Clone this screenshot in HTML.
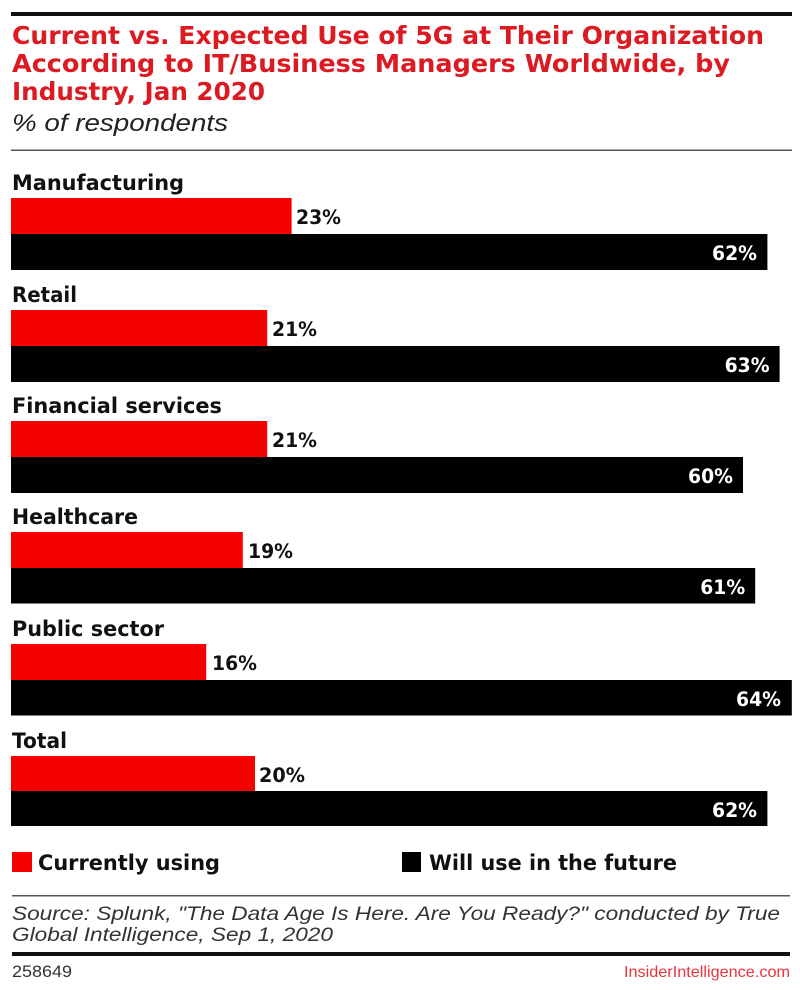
<!DOCTYPE html>
<html>
<head>
<meta charset="utf-8">
<style>
  html, body { margin: 0; padding: 0; background: #ffffff; }
  body { width: 800px; height: 990px; overflow: hidden; }
  svg { display: block; }
  .title { font-family: "DejaVu Sans", "Liberation Sans", sans-serif; font-weight: bold; font-size: 24.5px; fill: #dc1a22; }
  .sub { font-family: "Liberation Sans", "DejaVu Sans", sans-serif; font-style: italic; font-size: 24px; fill: #222; }
  .grp { font-family: "DejaVu Sans", "Liberation Sans", sans-serif; font-weight: bold; font-size: 21px; fill: #111; }
  .val { font-family: "DejaVu Sans", "Liberation Sans", sans-serif; font-weight: bold; font-size: 19.5px; fill: #111; }
  .valw { font-family: "DejaVu Sans", "Liberation Sans", sans-serif; font-weight: bold; font-size: 19.5px; fill: #fff; }
  .leg { font-family: "DejaVu Sans", "Liberation Sans", sans-serif; font-weight: bold; font-size: 21px; fill: #111; }
  .src { font-family: "Liberation Sans", "DejaVu Sans", sans-serif; font-style: italic; font-size: 19.5px; fill: #333; }
  .id { font-family: "Liberation Sans", "DejaVu Sans", sans-serif; font-size: 16.5px; fill: #333; }
  .brand { font-family: "Liberation Sans", "DejaVu Sans", sans-serif; font-size: 16px; fill: #e8333c; }
</style>
</head>
<body>
<svg width="800" height="990" viewBox="0 0 800 990" xmlns="http://www.w3.org/2000/svg">
  <rect x="0" y="0" width="800" height="990" fill="#ffffff"/>
  <!-- top rule -->
  <rect x="11" y="12" width="781" height="4" fill="#111"/>

  <!-- title -->
  <text class="title" x="12" y="44" textLength="752" lengthAdjust="spacingAndGlyphs">Current vs. Expected Use of 5G at Their Organization</text>
  <text class="title" x="12" y="72" textLength="718" lengthAdjust="spacingAndGlyphs">According to IT/Business Managers Worldwide, by</text>
  <text class="title" x="12" y="100" textLength="253" lengthAdjust="spacingAndGlyphs">Industry, Jan 2020</text>
  <text class="sub" x="12" y="131" textLength="216" lengthAdjust="spacingAndGlyphs">% of respondents</text>

  <rect x="11" y="149.5" width="781" height="1.5" fill="#555"/>

  <!-- Manufacturing -->
  <text class="grp" x="12" y="190" textLength="172" lengthAdjust="spacingAndGlyphs">Manufacturing</text>
  <rect x="11" y="198" width="280.6" height="36" fill="#f70000"/>
  <text class="val" x="296" y="224" textLength="45" lengthAdjust="spacingAndGlyphs">23%</text>
  <rect x="11" y="234" width="756.4" height="36" fill="#000"/>
  <text class="valw" x="757" y="260" text-anchor="end" textLength="45" lengthAdjust="spacingAndGlyphs">62%</text>

  <!-- Retail -->
  <text class="grp" x="12" y="302" textLength="65" lengthAdjust="spacingAndGlyphs">Retail</text>
  <rect x="11" y="310" width="256.2" height="36" fill="#f70000"/>
  <text class="val" x="272" y="336" textLength="45" lengthAdjust="spacingAndGlyphs">21%</text>
  <rect x="11" y="346" width="768.6" height="36" fill="#000"/>
  <text class="valw" x="769.6" y="372" text-anchor="end" textLength="45" lengthAdjust="spacingAndGlyphs">63%</text>

  <!-- Financial services -->
  <text class="grp" x="12" y="413" textLength="210" lengthAdjust="spacingAndGlyphs">Financial services</text>
  <rect x="11" y="421" width="256.2" height="36" fill="#f70000"/>
  <text class="val" x="272" y="447" textLength="45" lengthAdjust="spacingAndGlyphs">21%</text>
  <rect x="11" y="457" width="732" height="36" fill="#000"/>
  <text class="valw" x="733" y="483" text-anchor="end" textLength="45" lengthAdjust="spacingAndGlyphs">60%</text>

  <!-- Healthcare -->
  <text class="grp" x="12" y="524" textLength="126" lengthAdjust="spacingAndGlyphs">Healthcare</text>
  <rect x="11" y="532" width="231.8" height="36" fill="#f70000"/>
  <text class="val" x="248" y="558" textLength="45" lengthAdjust="spacingAndGlyphs">19%</text>
  <rect x="11" y="568" width="744.2" height="35.5" fill="#000"/>
  <text class="valw" x="745.2" y="594" text-anchor="end" textLength="45" lengthAdjust="spacingAndGlyphs">61%</text>

  <!-- Public sector -->
  <text class="grp" x="12" y="636" textLength="152" lengthAdjust="spacingAndGlyphs">Public sector</text>
  <rect x="11" y="644" width="195.2" height="36" fill="#f70000"/>
  <text class="val" x="212" y="670" textLength="45" lengthAdjust="spacingAndGlyphs">16%</text>
  <rect x="11" y="680" width="780.8" height="35.5" fill="#000"/>
  <text class="valw" x="781" y="706" text-anchor="end" textLength="45" lengthAdjust="spacingAndGlyphs">64%</text>

  <!-- Total -->
  <text class="grp" x="12" y="748" textLength="55" lengthAdjust="spacingAndGlyphs">Total</text>
  <rect x="11" y="756" width="244" height="35" fill="#f70000"/>
  <text class="val" x="259" y="782" textLength="46" lengthAdjust="spacingAndGlyphs">20%</text>
  <rect x="11" y="791" width="756.4" height="35" fill="#000"/>
  <text class="valw" x="757" y="817" text-anchor="end" textLength="45" lengthAdjust="spacingAndGlyphs">62%</text>

  <!-- legend -->
  <rect x="12" y="852" width="20" height="20" fill="#f70000"/>
  <text class="leg" x="38" y="870" textLength="182" lengthAdjust="spacingAndGlyphs">Currently using</text>
  <rect x="402" y="852" width="19" height="20" fill="#000"/>
  <text class="leg" x="429" y="870" textLength="248" lengthAdjust="spacingAndGlyphs">Will use in the future</text>

  <rect x="12" y="895" width="778" height="1.5" fill="#555"/>

  <!-- source -->
  <text class="src" x="12" y="920" textLength="768" lengthAdjust="spacingAndGlyphs">Source: Splunk, "The Data Age Is Here. Are You Ready?" conducted by True</text>
  <text class="src" x="12" y="941" textLength="321" lengthAdjust="spacingAndGlyphs">Global Intelligence, Sep 1, 2020</text>

  <rect x="12" y="952" width="778" height="4" fill="#111"/>

  <text class="id" x="12" y="977" textLength="60" lengthAdjust="spacingAndGlyphs">258649</text>
  <text class="brand" x="790" y="977" text-anchor="end" textLength="166" lengthAdjust="spacingAndGlyphs">InsiderIntelligence.com</text>
</svg>
</body>
</html>
